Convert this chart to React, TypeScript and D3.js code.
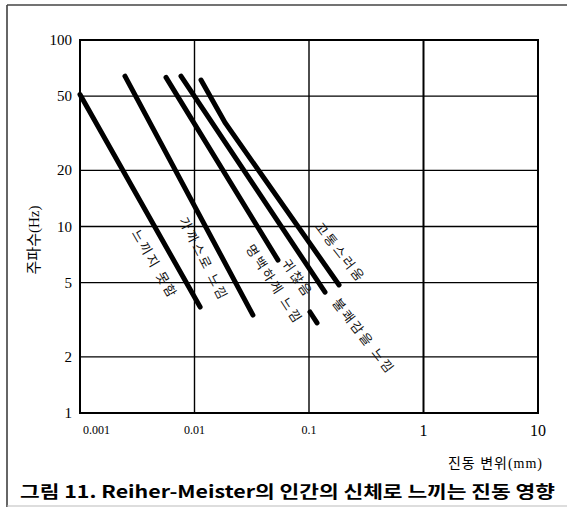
import React, {useEffect, useRef} from 'react';
import * as d3 from 'd3';

// axis ticks
const xTicks = [0.001, 0.01, 0.1, 1, 10];
const xTickLabels = ['0.001', '0.01', '0.1', '1', '10'];
const yTicks = [1, 2, 5, 10, 20, 50, 100];

// threshold lines, [displacement mm, frequency Hz]
const notFelt = [[0.001, 51], [0.0112, 3.7]];
const justFelt = [[0.00247, 64], [0.0324, 3.35]];
const clearlyFelt = [[0.00564, 63], [0.0536, 6.6]];
const clearlyFeltTail = [[0.102, 3.48], [0.1175, 3.04]];
const annoying = [[0.00762, 64], [0.138, 4.45]];
const painful = [[0.0114, 61], [0.0185, 36], [0.183, 4.86]];

// labels along the lines
const labelTexts = ['느끼지 못함', '가까스로 느낌', '명백하게 느낌', '귀찮음', '고통스러움', '불쾌감을 느낌'];
const labelX = [0.00455, 0.0122, 0.0505, 0.0805, 0.19, 0.305];
const labelY = [6.3, 6.7, 4.92, 5.3, 7.3, 2.59];
const labelAngle = [60, 63, 57, 55, 52, 52];

const W = 567, H = 513;

const App = () => {
    const ref = useRef(null);
    useEffect(() => {
        draw(ref.current);
    }, []);
    return <svg ref={ref} width={W} height={H} style={{position: 'absolute', left: 0, top: 0, background: '#fff'}}/>;
};

const draw = (el) => {
    const svg = d3.select(el);
    svg.selectAll('*').remove();

    const left = 80, right = 538, top = 40, bottom = 413;

    const x = d3.scaleLog().domain([0.001, 10]).range([left, right]);
    const y = d3.scaleLog().domain([1, 100]).range([bottom, top]);

    // outer frame (scan border)
    svg.append('line').attr('x1', 7).attr('y1', 5).attr('x2', 7).attr('y2', 507)
        .attr('stroke', '#333').attr('stroke-width', 1.5);
    svg.append('line').attr('x1', 7).attr('y1', 5).attr('x2', W).attr('y2', 5)
        .attr('stroke', '#444').attr('stroke-width', 1.5);
    svg.append('line').attr('x1', 7).attr('y1', 506).attr('x2', W).attr('y2', 506)
        .attr('stroke', '#bbb').attr('stroke-width', 1);

    // grid
    svg.append('g').selectAll('line').data(yTicks).enter().append('line')
        .attr('x1', left).attr('x2', right)
        .attr('y1', d => y(d)).attr('y2', d => y(d))
        .attr('stroke', '#000').attr('stroke-width', 1.4);
    svg.append('g').selectAll('line').data(xTicks).enter().append('line')
        .attr('x1', d => x(d)).attr('x2', d => x(d))
        .attr('y1', top).attr('y2', bottom)
        .attr('stroke', '#000').attr('stroke-width', d => (d === 1 ? 2 : 1.4));

    // frame of plot
    svg.append('rect').attr('x', left).attr('y', top)
        .attr('width', right - left).attr('height', bottom - top)
        .attr('fill', 'none').attr('stroke', '#000').attr('stroke-width', 2);

    // y tick labels
    svg.append('g').selectAll('text').data(yTicks).enter().append('text')
        .attr('x', left - 8).attr('y', d => y(d))
        .attr('text-anchor', 'end').attr('dominant-baseline', 'central')
        .style('font-family', 'Liberation Serif, serif').style('font-size', '15px')
        .text(d => d);

    // x tick labels
    svg.append('g').selectAll('text').data(xTicks).enter().append('text')
        .attr('x', (d, i) => (i === 0 ? x(d) + 3 : x(d)))
        .attr('y', bottom + 17)
        .attr('text-anchor', (d, i) => (i === 0 ? 'start' : 'middle'))
        .attr('dominant-baseline', 'central')
        .style('font-family', 'Liberation Serif, serif')
        .style('font-size', d => (d < 1 ? '12px' : '16px'))
        .text((d, i) => xTickLabels[i]);

    // axis titles
    svg.append('text')
        .attr('transform', 'translate(34,240) rotate(-90)')
        .attr('text-anchor', 'middle').attr('dominant-baseline', 'central')
        .style('font-family', 'Liberation Serif, Noto Sans CJK KR, serif').style('font-size', '15px')
        .text('주파수(Hz)');
    svg.append('text')
        .attr('x', right + 5).attr('y', 463)
        .attr('text-anchor', 'end').attr('dominant-baseline', 'central')
        .style('font-family', 'Liberation Serif, Noto Sans CJK KR, serif').style('font-size', '14px')
        .style('letter-spacing', '1px')
        .text('진동 변위(mm)');

    // threshold lines
    const line = d3.line().x(d => x(d[0])).y(d => y(d[1]));
    [notFelt, justFelt, clearlyFelt, clearlyFeltTail, annoying, painful].forEach(s => {
        svg.append('path').attr('d', line(s))
            .attr('fill', 'none').attr('stroke', '#000')
            .attr('stroke-width', 5).attr('stroke-linecap', 'round');
    });

    // line labels
    labelTexts.forEach((t, i) => {
        svg.append('text')
            .attr('transform', 'translate(' + x(labelX[i]) + ',' + y(labelY[i]) + ') rotate(' + labelAngle[i] + ')')
            .attr('text-anchor', 'middle').attr('dominant-baseline', 'central')
            .style('font-family', 'Noto Sans CJK KR, sans-serif').style('font-size', '13px')
            .style('letter-spacing', '2.5px')
            .style('fill', '#111')
            .text(t);
    });

    // caption
    svg.append('text')
        .attr('x', 20).attr('y', 490)
        .attr('textLength', 535).attr('lengthAdjust', 'spacingAndGlyphs')
        .attr('dominant-baseline', 'central')
        .style('font-family', 'Noto Sans CJK KR, sans-serif').style('font-size', '17px')
        .style('font-weight', 'bold')
        .text('그림 11. Reiher-Meister의 인간의 신체로 느끼는 진동 영향');
};

export default App;
